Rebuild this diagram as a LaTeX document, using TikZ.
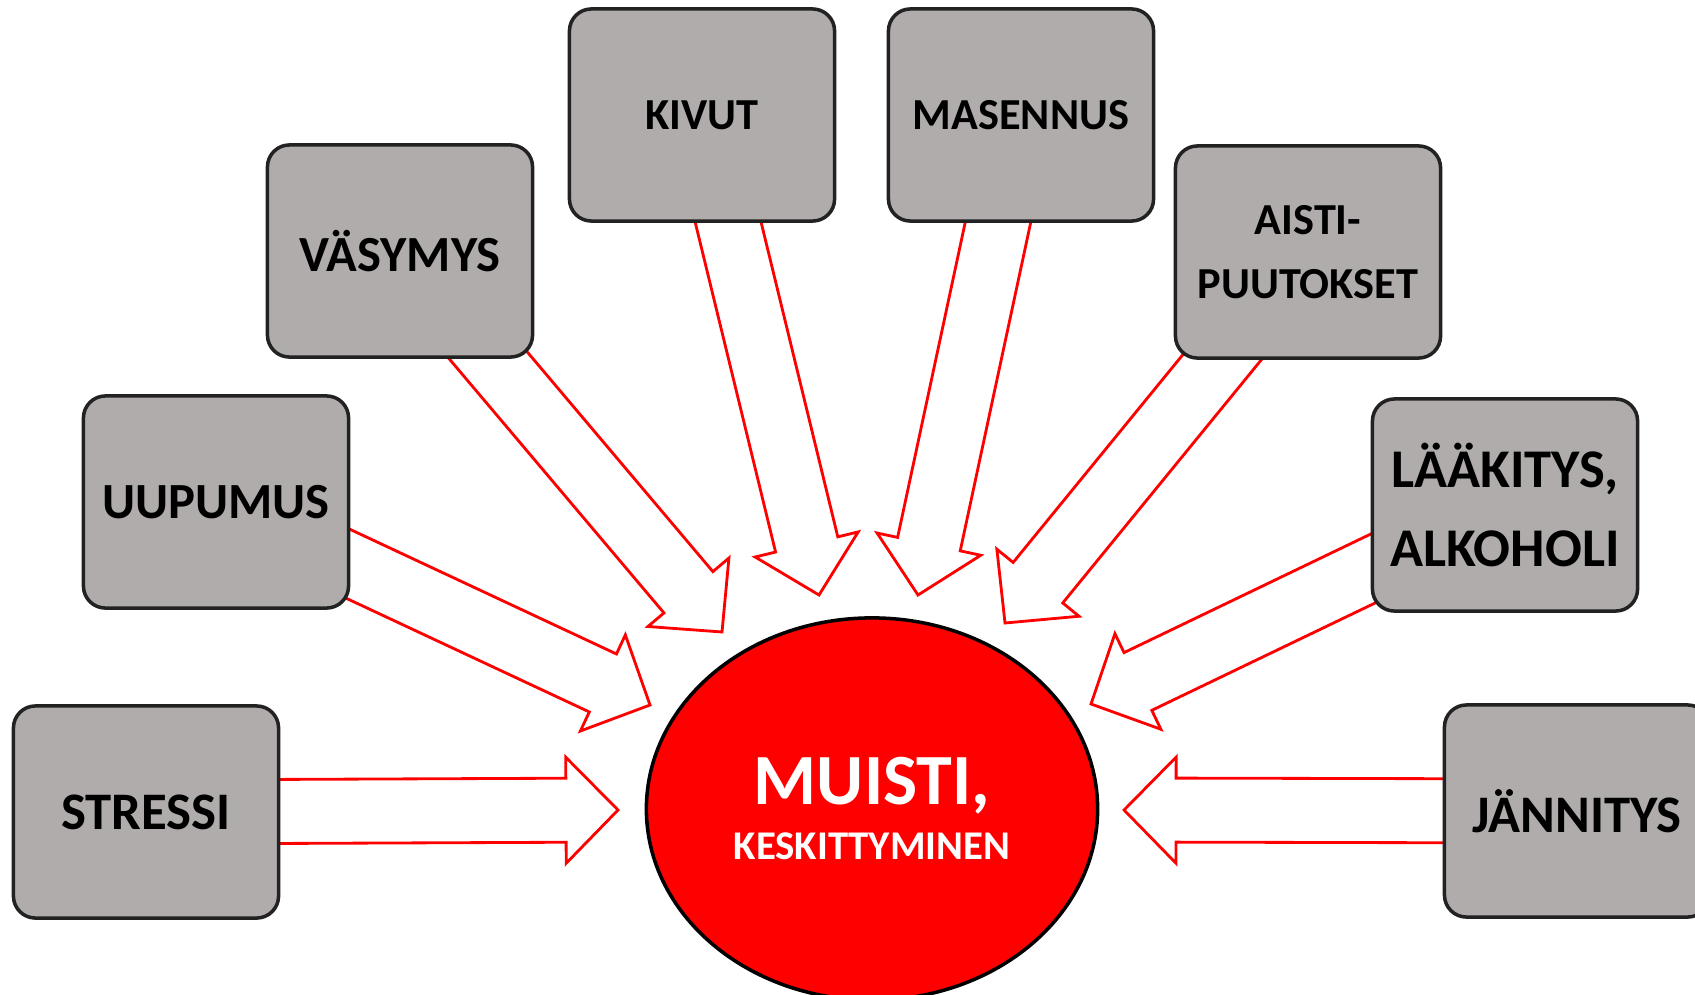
\documentclass[tikz,border=0pt]{standalone}
\usepackage{fontspec}
\setmainfont{Carlito}
\usepackage{tikz}
\usetikzlibrary{shapes.geometric, calc, backgrounds}

\definecolor{boxgray}{HTML}{AFACAB}
\definecolor{linegray}{HTML}{222222}

% block arrow from a box (#1) to a free tip (#2)
\newcommand{\blockarrow}[2]{%
  \coordinate (head) at ($(#2)!0.52cm!(#1.center)$);
  \draw[fatarrow] ($(#1.center)!0.32cm!-90:(#2)$) -- ($(head)!0.32cm!90:(#1.center)$)
    -- ($(head)!0.53cm!90:(#1.center)$) -- (#2)
    -- ($(head)!0.53cm!-90:(#1.center)$) -- ($(head)!0.32cm!-90:(#1.center)$)
    -- ($(#1.center)!0.32cm!90:(#2)$) -- cycle;
}

\begin{document}
\begin{tikzpicture}[
    x=0.01cm, y=-0.01cm,
    % Styles
    causebox/.style={
      draw=linegray,
      fill=boxgray,
      line width=1pt,
      rounded corners=0.22cm,
      align=center,
      minimum width=2.65cm,
      minimum height=2.12cm,
      inner sep=2pt,
      font=\fontsize{15}{18}\selectfont\bfseries
    },
    smallbox/.style={
      causebox,
      font=\fontsize{12.6}{18.4}\selectfont\bfseries
    },
    corecircle/.style={
      ellipse,
      draw=black,
      fill=red,
      line width=1pt,
      minimum width=4.51cm,
      minimum height=3.82cm,
      inner sep=0pt
    },
    coretext/.style={
      text=white,
      anchor=base,
      inner sep=0pt
    },
    fatarrow/.style={
      draw=red,
      fill=white,
      line width=0.8pt,
      line join=miter
    }
  ]

    \useasboundingbox (0,0) rectangle (1695,994);

    % Cause boxes
    \node (stressi) [causebox] at (146,812) {STRESSI};
    \node (uupumus) [causebox, font=\fontsize{14.4}{18}\selectfont\bfseries] at (216,502) {UUPUMUS};
    \node (vasymys) [causebox, font=\fontsize{14.4}{18}\selectfont\bfseries] at (400,251) {VÄSYMYS};
    \node (kivut) [smallbox] at (702,115) {KIVUT};
    \node (masennus) [smallbox] at (1021,115) {MASENNUS};
    \node (aisti) [smallbox] at (1308,252) {AISTI-\\PUUTOKSET};
    \node (laakitys) [causebox, font=\fontsize{15.5}{22.7}\selectfont\bfseries] at (1505,505) {LÄÄKITYS,\\ALKOHOLI};
    \node (jannitys) [causebox] at (1577,811) {JÄNNITYS};

    % Centre
    \node (muisti) [corecircle] at (872,809) {};
    \node (muistitop) [coretext, font=\fontsize{20.5}{24}\selectfont\bfseries] at (872,804) {MUISTI,};
    \node (muistibottom) [coretext, font=\fontsize{11.6}{14}\selectfont\bfseries] at (872,859) {KESKITTYMINEN};

    % Arrow tips
    \coordinate (tipstressi) at (618,810);
    \coordinate (tipuupumus) at (650,705);
    \coordinate (tipvasymys) at (722,632);
    \coordinate (tipkivut) at (819,595);
    \coordinate (tipmasennus) at (918,595);
    \coordinate (tipaisti) at (1005,623);
    \coordinate (tiplaakitys) at (1091,704);
    \coordinate (tipjannitys) at (1124,810);

    % Arrows, behind the boxes
    \begin{scope}[on background layer]
      \blockarrow{stressi}{tipstressi}
      \blockarrow{uupumus}{tipuupumus}
      \blockarrow{vasymys}{tipvasymys}
      \blockarrow{kivut}{tipkivut}
      \blockarrow{masennus}{tipmasennus}
      \blockarrow{aisti}{tipaisti}
      \blockarrow{laakitys}{tiplaakitys}
      \blockarrow{jannitys}{tipjannitys}
    \end{scope}

\end{tikzpicture}
\end{document}
